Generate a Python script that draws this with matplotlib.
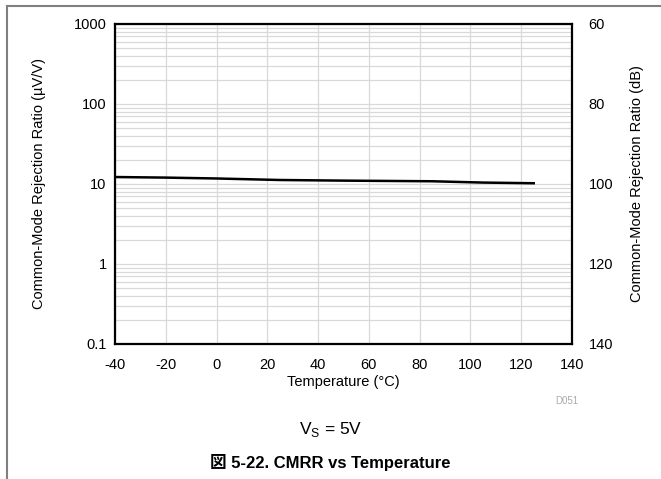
import matplotlib.pyplot as plt
from matplotlib.ticker import FixedLocator, LogLocator, NullFormatter

plt.rcParams['font.family'] = ['Liberation Sans', 'Noto Sans CJK JP', 'DejaVu Sans']

# data
temp = [-40, -20, 0, 25, 50, 85, 105, 125]
cmrr = [12.2, 12.0, 11.7, 11.2, 11.0, 10.8, 10.4, 10.2]

x_ticks = [-40, -20, 0, 20, 40, 60, 80, 100, 120, 140]
y_ticks = [0.1, 1, 10, 100, 1000]
y_labels = ['0.1', '1', '10', '100', '1000']
db_ticks = [60, 80, 100, 120, 140]

fig = plt.figure(figsize=(6.61, 4.79), dpi=100)
ax = fig.add_axes([0.174, 0.282, 0.691, 0.668])

ax.plot(temp, cmrr, color='black', linewidth=1.8, zorder=3)

ax.set_yscale('log')
ax.set_xlim(-40, 140)
ax.set_ylim(0.1, 1000)
ax.set_xticks(x_ticks)
ax.set_xticklabels([str(t) for t in x_ticks])
ax.yaxis.set_major_locator(FixedLocator(y_ticks))
ax.set_yticklabels(y_labels)
ax.yaxis.set_minor_locator(LogLocator(base=10, subs=range(2, 10)))
ax.yaxis.set_minor_formatter(NullFormatter())
ax.grid(True, which='both', color='#d9d9d9', linewidth=0.9, zorder=0)
ax.tick_params(which='both', length=0, labelsize=10.5)
ax.tick_params(axis='x', pad=10)
ax.tick_params(axis='y', pad=6)
for s in ax.spines.values():
    s.set_linewidth(1.6)

ax.set_xlabel('Temperature (°C)', fontsize=10.5, labelpad=2)
ax.set_ylabel('Common-Mode Rejection Ratio (µV/V)', fontsize=10.5, labelpad=20)

# right axis in dB
ax2 = ax.twinx()
ax2.set_ylim(140, 60)
ax2.set_yticks(db_ticks)
ax2.tick_params(length=0, labelsize=10.5, pad=12)
for s in ax2.spines.values():
    s.set_visible(False)
ax2.set_ylabel('Common-Mode Rejection Ratio (dB)', fontsize=10.5, labelpad=12)

fig.text(0.857, 0.163, 'D051', fontsize=7, color='#aaaaaa', ha='center', va='center')
fig.text(0.50, 0.103, r'V$_\mathregular{S}$ = 5V', fontsize=12.5, ha='center', va='center')
fig.text(0.50, 0.035, '図 5-22. CMRR vs Temperature', fontsize=12, fontweight='bold',
         ha='center', va='center')

# page frame lines
fig.add_artist(plt.Line2D([0.0106, 1.0], [0.987, 0.987], color='#808080', linewidth=1.5,
                          transform=fig.transFigure))
fig.add_artist(plt.Line2D([0.0106, 0.0106], [0.0, 0.987], color='#808080', linewidth=1.5,
                          transform=fig.transFigure))

fig.savefig('out.png', dpi=100)
